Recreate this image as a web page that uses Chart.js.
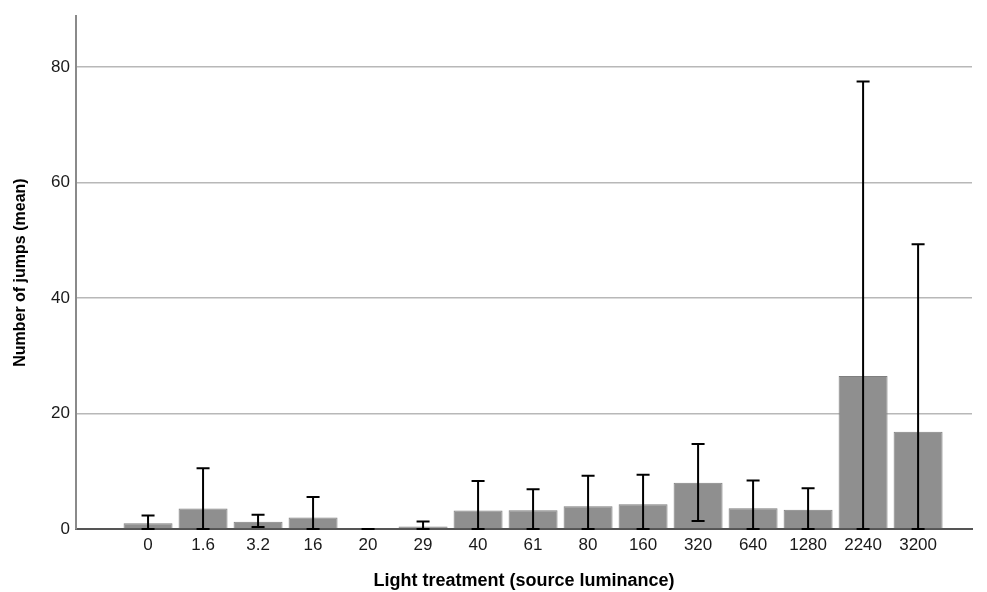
<!DOCTYPE html>
<html>
<head>
<meta charset="utf-8">
<script src="https://cdn.jsdelivr.net/npm/chart.js@4"></script>
<style>
  html, body { margin: 0; padding: 0; background: #ffffff; }
  #wrap { width: 987px; height: 592px; position: relative; }
</style>
</head>
<body>
<div id="wrap"><canvas id="chart"></canvas></div>
<script>
// Light treatment levels (source luminance)
const categories = ['0', '1.6', '3.2', '16', '20', '29', '40', '61', '80', '160', '320', '640', '1280', '2240', '3200'];
// Mean number of jumps per treatment
const meanJumps = [1.0, 3.55, 1.25, 2.0, 0.0, 0.45, 3.2, 3.25, 3.95, 4.3, 8.0, 3.6, 3.35, 26.5, 16.85];
// Error bar limits
const errUpper = [2.35, 10.5, 2.45, 5.55, 0.0, 1.3, 8.3, 6.9, 9.2, 9.4, 14.7, 8.4, 7.05, 77.5, 49.3];
const errLower = [0.0, 0.0, 0.35, 0.0, 0.0, 0.0, 0.0, 0.0, 0.0, 0.0, 1.4, 0.0, 0.0, 0.0, 0.0];
// Y axis tick values
const yTicks = [0, 20, 40, 60, 80];

const FONT = "'Liberation Sans', Arial, sans-serif";

const errorBars = {
  id: 'errorBars',
  afterDatasetsDraw(chart) {
    const { ctx, scales: { x, y } } = chart;
    const cap = 6.5;
    ctx.save();
    ctx.strokeStyle = '#000000';
    ctx.lineWidth = 2;
    ctx.lineCap = 'butt';
    categories.forEach((_, i) => {
      const px = x.getPixelForValue(i);
      const top = y.getPixelForValue(errUpper[i]);
      const bot = y.getPixelForValue(errLower[i]);
      ctx.beginPath();
      ctx.moveTo(px, top);
      ctx.lineTo(px, bot);
      ctx.moveTo(px - cap, top);
      ctx.lineTo(px + cap, top);
      ctx.moveTo(px - cap, bot);
      ctx.lineTo(px + cap, bot);
      ctx.stroke();
    });
    ctx.restore();
  }
};

new Chart(document.getElementById('chart'), {
  type: 'bar',
  data: {
    datasets: [{
      data: meanJumps.map((v, i) => ({ x: i, y: v })),
      backgroundColor: '#8f8f8f',
      borderColor: '#7f7f7f',
      borderWidth: 1,
      categoryPercentage: 1.0,
      barPercentage: 0.89
    }]
  },
  options: {
    responsive: true,
    maintainAspectRatio: false,
    animation: false,
    layout: { padding: { top: 14, right: 15, left: 0, bottom: 0 } },
    plugins: { legend: { display: false }, tooltip: { enabled: false } },
    scales: {
      x: {
        type: 'linear',
        offset: false,
        min: -1.31,
        max: 14.98,
        afterBuildTicks(scale) {
          scale.ticks = categories.map((_, i) => ({ value: i }));
        },
        afterFit(scale) { scale.height = 63; },
        grid: { display: false, drawTicks: false },
        border: { color: '#555555', width: 2 },
        ticks: {
          autoSkip: false,
          maxRotation: 0,
          padding: 6,
          color: '#1a1a1a',
          font: { family: FONT, size: 17 },
          callback: (v) => categories[v] ?? ''
        },
        title: {
          display: true,
          text: 'Light treatment (source luminance)',
          color: '#000000',
          font: { family: FONT, size: 18, weight: 'bold' },
          padding: { top: 8, bottom: 0 }
        }
      },
      y: {
        min: 0,
        max: 88.8,
        afterBuildTicks(scale) {
          scale.ticks = yTicks.map(v => ({ value: v }));
        },
        afterFit(scale) { scale.width = 76; },
        grid: { color: '#b8b8b8', lineWidth: 1.5, drawTicks: false },
        border: { color: '#8a8a8a', width: 2 },
        ticks: {
          padding: 6,
          color: '#1a1a1a',
          font: { family: FONT, size: 17 }
        },
        title: {
          display: true,
          text: 'Number of jumps (mean)',
          color: '#000000',
          font: { family: FONT, size: 16, weight: 'bold' },
          padding: { top: 11, bottom: 4 }
        }
      }
    }
  },
  plugins: [errorBars]
});
</script>
</body>
</html>
